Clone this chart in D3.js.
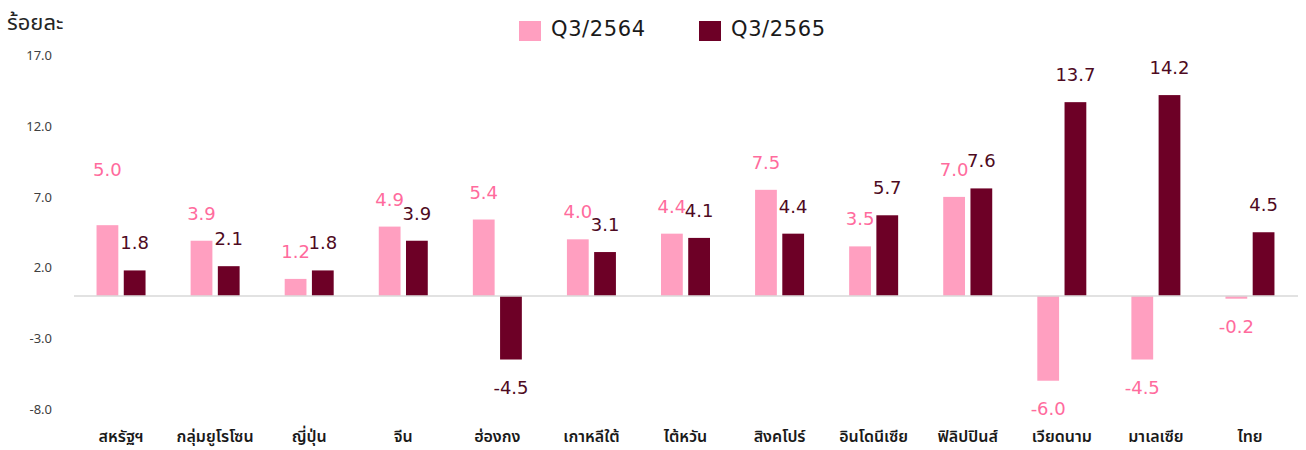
<!DOCTYPE html>
<html>
<head>
<meta charset="utf-8">
<script src="https://cdn.jsdelivr.net/npm/d3@7"></script>
<style>
  body { margin: 0; background: #fff; }
  svg { font-family: "Noto Sans", "Noto Sans Thai", "DejaVu Sans", sans-serif; }
</style>
</head>
<body>
<div id="chart"></div>
<script>
const categories = ['สหรัฐฯ', 'กลุ่มยูโรโซน', 'ญี่ปุ่น', 'จีน', 'ฮ่องกง', 'เกาหลีใต้', 'ไต้หวัน',
  'สิงคโปร์', 'อินโดนีเซีย', 'ฟิลิปปินส์', 'เวียดนาม', 'มาเลเซีย', 'ไทย'];
const seriesNames = ['Q3/2564', 'Q3/2565'];
const q3_2564 = [5.0, 3.9, 1.2, 4.9, 5.4, 4.0, 4.4, 7.5, 3.5, 7.0, -6.0, -4.5, -0.2];
const q3_2565 = [1.8, 2.1, 1.8, 3.9, -4.5, 3.1, 4.1, 4.4, 5.7, 7.6, 13.7, 14.2, 4.5];
const yTicks = [-8, -3, 2, 7, 12, 17];

const width = 1306, height = 450;
const barColors = ['#ff9fc0', '#6d0026'];
const labelColors = ['#ff6b9d', '#4e0a22'];

// plain hyphen for negatives, as in the original
const fmt = d3.formatLocale({ decimal: '.', thousands: ',', grouping: [3], currency: ['', ''], minus: '-' }).format('.1f');

const svg = d3.select('#chart').append('svg')
  .attr('width', width)
  .attr('height', height);

const y = d3.scaleLinear().domain([-8, 17]).range([409, 55.5]);

const x0 = d3.scaleBand().domain(categories).range([74, 1297]).padding(0);
const bw = x0.bandwidth();
const x1 = d3.scaleBand().domain(seriesNames)
  .range([(bw - 49) / 2, (bw + 49) / 2])
  .paddingInner(0.2);

// y axis tick labels only
const yAxis = svg.append('g')
  .attr('transform', 'translate(52,0)')
  .call(d3.axisLeft(y).tickValues(yTicks).tickFormat(fmt).tickSize(0).tickPadding(0));
yAxis.select('.domain').remove();
yAxis.selectAll('text')
  .attr('font-size', 13)
  .attr('fill', '#404040')
  .style('font-family', '"Noto Sans", sans-serif');

svg.append('text')
  .attr('x', 7)
  .attr('y', 30)
  .attr('font-size', 22)
  .attr('fill', '#262626')
  .text('ร้อยละ');

const rows = categories.map((c, i) => ({ cat: c, vals: [q3_2564[i], q3_2565[i]] }));

const groups = svg.selectAll('.grp')
  .data(rows)
  .enter()
  .append('g')
  .attr('class', 'grp')
  .attr('transform', d => `translate(${x0(d.cat)},0)`);

groups.selectAll('rect')
  .data(d => d.vals.map((v, k) => ({ v, k, s: seriesNames[k] })))
  .enter()
  .append('rect')
  .attr('x', d => x1(d.s))
  .attr('width', x1.bandwidth())
  .attr('y', d => y(Math.max(0, d.v)))
  .attr('height', d => Math.abs(y(d.v) - y(0)))
  .attr('fill', d => barColors[d.k]);

// zero line
svg.append('line')
  .attr('x1', 74).attr('x2', 1298)
  .attr('y1', y(0)).attr('y2', y(0))
  .attr('stroke', '#d9d9d9')
  .attr('stroke-width', 1.5);

// value labels
groups.selectAll('.val')
  .data((d, i) => d.vals.map((v, k) => ({ v, k, s: seriesNames[k], i })))
  .enter()
  .append('text')
  .attr('class', 'val')
  .attr('text-anchor', 'middle')
  .attr('x', d => x1(d.s) + x1.bandwidth() / 2)
  .attr('y', d => {
    if (d.v < 0) return y(d.v) + 34;
    // first US label was nudged up in the original
    const lift = (d.i === 0 && d.k === 0) ? 28 : 0;
    return y(d.v) - 21 - lift;
  })
  .attr('font-size', 18)
  .style('font-family', '"DejaVu Sans", sans-serif')
  .attr('fill', d => labelColors[d.k])
  .text(d => fmt(d.v));

// category labels
svg.selectAll('.cat')
  .data(categories)
  .enter()
  .append('text')
  .attr('class', 'cat')
  .attr('x', d => x0(d) + bw / 2)
  .attr('y', 442)
  .attr('text-anchor', 'middle')
  .attr('font-size', 16)
  .attr('font-weight', 600)
  .attr('fill', '#1a1a1a')
  .text(d => d);

// legend
const legend = svg.append('g');
const legX = [519, 699];
seriesNames.forEach((s, k) => {
  legend.append('rect')
    .attr('x', legX[k]).attr('y', 21)
    .attr('width', 22).attr('height', 20)
    .attr('fill', barColors[k]);
  legend.append('text')
    .attr('x', legX[k] + 32).attr('y', 36)
    .attr('font-size', 21)
    .attr('letter-spacing', 0.6)
    .style('font-family', '"DejaVu Sans", sans-serif')
    .attr('fill', '#1a1a1a')
    .text(s);
});
</script>
</body>
</html>
